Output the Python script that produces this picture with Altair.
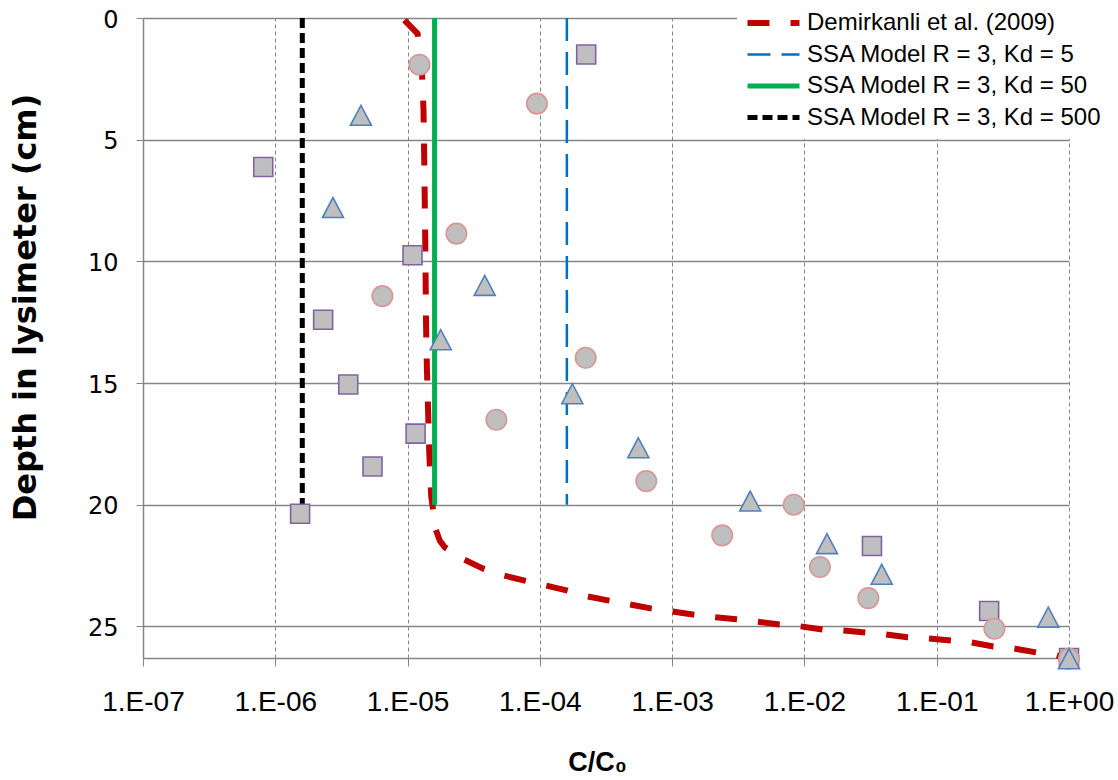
import altair as alt
import pandas as pd

# ---------------- data ----------------
series_names = [
    "Demirkanli et al. (2009)",
    "SSA Model R = 3, Kd = 5",
    "SSA Model R = 3, Kd = 50",
    "SSA Model R = 3, Kd = 500",
]
series_colors = ["#C00000", "#0070C0", "#00B050", "#000000"]
series_dash = [[22, 21], [23, 11], [1, 0], [10, 5]]
series_width = [6, 2.5, 5, 5]

dem_c = [9.46e-6, 1.19e-5, 1.29e-5, 1.32e-5, 1.34e-5, 1.36e-5, 1.38e-5, 1.40e-5,
         1.43e-5, 1.46e-5, 1.51e-5, 1.55e-5, 1.63e-5, 1.75e-5, 1.91e-5, 2.66e-5,
         3.70e-5, 5.33e-5, 7.55e-5, 1.11e-4, 1.59e-4, 2.30e-4, 3.26e-4, 4.79e-4,
         6.87e-4, 9.89e-4, 1.43e-3, 2.13e-3, 3.06e-3, 4.34e-3, 6.47e-3, 9.33e-3,
         1.37e-2, 1.94e-2, 2.89e-2, 4.09e-2, 6.00e-2, 8.65e-2, 0.129, 0.182,
         0.268, 0.385, 0.565, 0.800, 0.95]
dem_depth = [0.09, 0.64, 2.42, 3.79, 6.26, 9.14, 12.63, 14.40, 16.17, 17.89,
             19.66, 20.11, 21.01, 21.47, 21.75, 22.25, 22.62, 22.91, 23.11, 23.32,
             23.52, 23.77, 23.93, 24.10, 24.26, 24.38, 24.51, 24.63, 24.71, 24.80,
             24.92, 25.00, 25.13, 25.17, 25.25, 25.33, 25.45, 25.50, 25.58, 25.66,
             25.83, 25.91, 26.07, 26.19, 26.30]

kd5_c = [1.6e-4, 1.6e-4]
kd50_c = [1.6e-5, 1.6e-5]
kd500_c = [1.6e-6, 1.6e-6]
ssa_depth = [0, 20]

circ_c = [1.23e-5, 9.5e-5, 2.34e-5, 6.45e-6, 2.22e-4, 4.69e-5, 6.37e-4, 8.3e-3,
          2.39e-3, 1.31e-2, 3.04e-2, 0.273, 1.0]
circ_d = [1.92, 3.52, 8.86, 11.43, 13.96, 16.51, 19.03, 20.0, 21.26, 22.56,
          23.84, 25.1, 26.33]

tri_c = [4.44e-6, 2.73e-6, 3.83e-5, 1.78e-5, 1.76e-4, 5.55e-4, 3.89e-3, 1.48e-2,
         3.84e-2, 0.697, 1.0]
tri_d = [4.0, 7.79, 10.99, 13.22, 15.44, 17.66, 19.85, 21.6, 22.86, 24.62, 26.33]

sq_c = [2.24e-4, 8.11e-7, 1.09e-5, 2.30e-6, 3.56e-6, 1.15e-5, 5.43e-6, 1.54e-6,
        3.24e-2, 0.249, 1.0]
sq_d = [1.50, 6.12, 9.75, 12.40, 15.06, 17.08, 18.43, 20.37, 21.70, 24.37, 26.30]

x_ticks = [1e-7, 1e-6, 1e-5, 1e-4, 1e-3, 1e-2, 1e-1, 1.0]
y_ticks = [0, 5, 10, 15, 20, 25]

# ---------------- tables ----------------
rows = []
for k, (cs, ds) in enumerate([(dem_c, dem_depth), (kd5_c, ssa_depth),
                              (kd50_c, ssa_depth), (kd500_c, ssa_depth)]):
    for i, (c, d) in enumerate(zip(cs, ds)):
        rows.append({"series": series_names[k], "c": c, "depth": d, "idx": i,
                     "sw": series_width[k]})
lines_df = pd.DataFrame(rows)

circ_df = pd.DataFrame({"c": circ_c, "depth": circ_d})
tri_df = pd.DataFrame({"c": tri_c, "depth": tri_d})
sq_df = pd.DataFrame({"c": sq_c, "depth": sq_d})

FONT = "Liberation Sans"
YFONT = "DejaVu Sans"
GRID = "#868686"

label_expr = ("'1.E' + (round(log(datum.value)/LN10) < 0 ? '-' : '+') + "
              "(abs(round(log(datum.value)/LN10)) < 10 ? '0' : '') + "
              "abs(round(log(datum.value)/LN10))")

x_enc = alt.X(
    "c:Q",
    scale=alt.Scale(type="log", domain=[1e-7, 1.0], nice=False),
    axis=alt.Axis(
        values=x_ticks, labelExpr=label_expr, grid=True, gridDash=[4, 3],
        gridColor=GRID, gridWidth=1, domainColor=GRID, domainWidth=1.5,
        tickColor=GRID, tickSize=8, tickWidth=1, labelFontSize=28, labelFont=FONT,
        labelColor="black", labelPadding=22, labelFlush=False, labelOverlap=False,
        title="C/C\u2080", titleFont=FONT, titleFontSize=27, titleFontWeight="bold",
        titleColor="black", titleX=454, titleY=112, titleAlign="center",
        titleBaseline="alphabetic",
    ),
)
y_enc = alt.Y(
    "depth:Q",
    scale=alt.Scale(domain=[0, 26.3], reverse=True, nice=False, zero=False),
    axis=alt.Axis(
        values=y_ticks, grid=True, gridColor=GRID, gridWidth=1.3,
        domainColor=GRID, domainWidth=1.5, tickColor=GRID, tickSize=7,
        labelFontSize=24, labelFont=YFONT, labelColor="black", labelPadding=18,
        labelOffset=2,
        title="Depth in lysimeter (cm)", titleFont=YFONT, titleFontSize=32,
        titleFontWeight="bold", titleColor="black", titleAngle=270,
        titleX=-108, titleY=289, titleAlign="center", titleBaseline="alphabetic",
    ),
)

legend_width_expr = (
    "(datum.value == '" + series_names[0] + "' ? 6 : "
    "(datum.value == '" + series_names[1] + "' ? 2.5 : 5))"
)

lines = alt.Chart(lines_df).mark_line(strokeCap="butt").encode(
    x=x_enc,
    y=y_enc,
    color=alt.Color(
        "series:N", title=None,
        scale=alt.Scale(domain=series_names, range=series_colors),
        legend=alt.Legend(symbolStrokeWidth=alt.ExprRef(expr=legend_width_expr)),
    ),
    strokeDash=alt.StrokeDash(
        "series:N", title=None,
        scale=alt.Scale(domain=series_names, range=series_dash),
    ),
    strokeWidth=alt.StrokeWidth("sw:Q", scale=None, legend=None),
    order=alt.Order("idx:Q"),
)

FILL = "#BFBFBF"
squares = alt.Chart(sq_df).mark_point(
    filled=True, shape="square", size=361, fill=FILL, stroke="#8064A2",
    strokeWidth=1.6, opacity=1,
).encode(x="c:Q", y="depth:Q")

circles = alt.Chart(circ_df).mark_point(
    filled=True, shape="circle", size=420, fill=FILL, stroke="#D99694",
    strokeWidth=1.6, opacity=1,
).encode(x="c:Q", y="depth:Q")

triangles = alt.Chart(tri_df).mark_point(
    filled=True, shape="M0,-0.95L1,0.95L-1,0.95Z", size=441, fill=FILL,
    stroke="#4F81BD", strokeWidth=1.6, opacity=1,
).encode(x="c:Q", y="depth:Q")

chart = alt.layer(lines, squares, circles, triangles).properties(
    width=926,
    height=640,
    autosize=alt.AutoSizeParams(type="none"),
    padding={"left": 143, "top": 18, "right": 49, "bottom": 122},
    background="white",
).configure_view(
    stroke=None
).configure_legend(
    orient="none", legendX=594, legendY=-15, fillColor="white", padding=8,
    symbolType="stroke", symbolSize=2704, clipHeight=24, rowPadding=7.5,
    labelFontSize=24, labelFont=FONT, labelColor="black", labelOffset=5,
    labelLimit=400, strokeColor="white",
)

chart.save("out.html", embed_options={"renderer": "svg", "actions": False})
